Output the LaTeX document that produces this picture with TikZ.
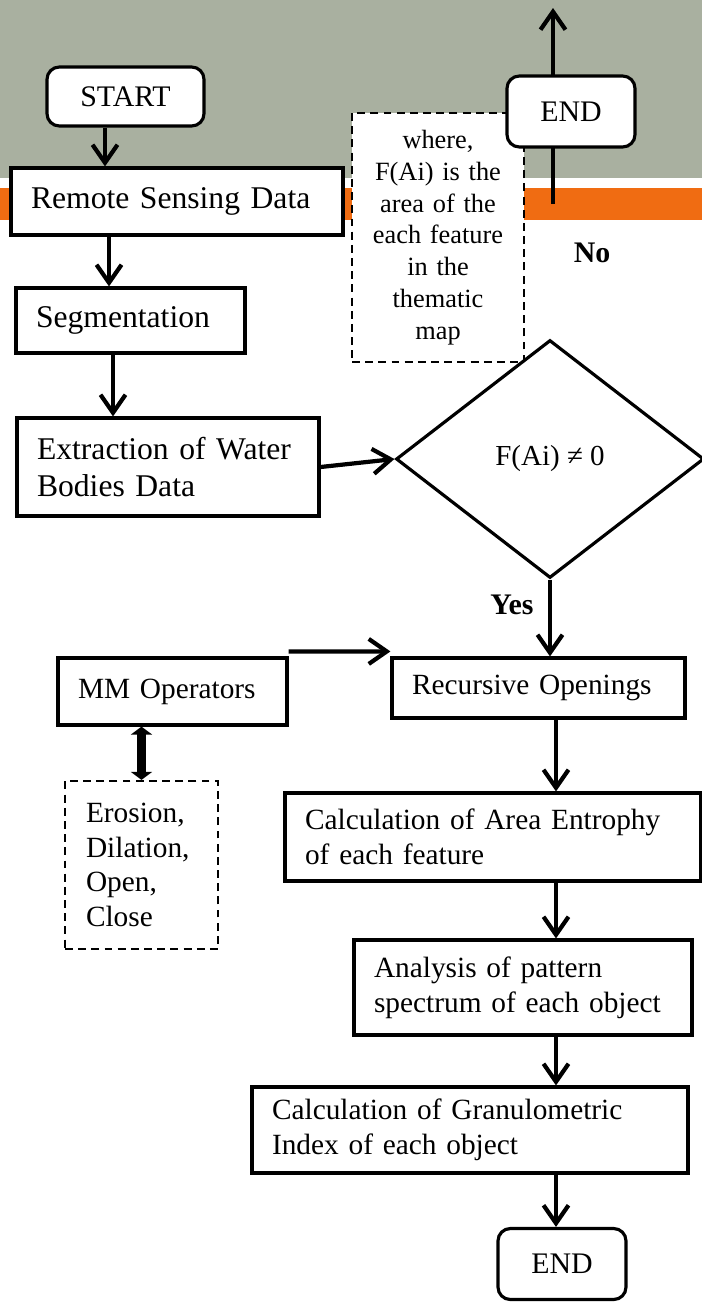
\documentclass[tikz,border=0pt]{standalone}
\usepackage{fontspec}
\setmainfont{Liberation Serif}
\usetikzlibrary{arrows.meta, positioning, shapes.geometric}

\definecolor{bandgray}{RGB}{169,176,160}
\definecolor{bandorange}{RGB}{240,108,18}

\begin{document}
\begin{tikzpicture}[
  x=0.02cm, y=-0.02cm,
  proc/.style={rectangle, draw=black, line width=1.8pt, fill=white, align=left,
               inner xsep=0.4cm, inner ysep=2pt, font=\fontsize{16.7}{19.8}\selectfont},
  bigproc/.style={proc, font=\fontsize{18}{21.6}\selectfont},
  term/.style={rectangle, draw=black, line width=1.8pt, fill=white, rounded corners=7pt,
               minimum width=2.56cm, minimum height=1.42cm, font=\fontsize{17}{20}\selectfont},
  note/.style={rectangle, draw=black, line width=1.3pt, dash pattern=on 4.5pt off 3pt,
               fill=white, inner sep=0pt},
  decision/.style={diamond, draw=black, line width=1.8pt, fill=white, inner sep=0pt,
               minimum width=6.16cm, minimum height=4.76cm, font=\fontsize{16.5}{20}\selectfont},
  arr/.style={-{Straight Barb[length=0.36cm, width=0.5cm]}, line width=2.4pt},
  dblarr/.style={{Triangle[length=0.16cm, width=0.42cm]}-{Triangle[length=0.16cm, width=0.42cm]},
               line width=5pt},
  lbl/.style={font=\bfseries\fontsize{17}{20}\selectfont}
]
  \useasboundingbox (0,0) rectangle (702,1305);
  % header bands
  \fill[bandgray] (0,0) rectangle (702,178);
  \fill[bandorange] (0,188) rectangle (702,220);

  % way out at the top
  \coordinate (up0) at (553,204);
  \coordinate (up1) at (553,8);
  \draw[arr] (up0) -- (up1);

  \node[note, minimum width=3.44cm, minimum height=4.98cm, text width=3.2cm, align=center,
        font=\fontsize{15}{18.1}\selectfont] (where) at (438,237.5)
        {where,\\F(Ai) is the\\area of the\\each feature\\in the\\thematic\\map};
  \node[term] (endtop) at (571,111.5) {END};
  \node[lbl] (no) at (592,253) {No};

  % main flow
  \node[term, minimum width=3.14cm, minimum height=1.18cm] (start) at (125.5,96.5) {START};
  \node[bigproc, text width=5.84cm, minimum height=1.34cm] (rsd) at (177,201.5) {Remote Sensing Data};
  \node[bigproc, text width=3.78cm, minimum height=1.3cm] (seg) at (130.5,320.5) {Segmentation};
  \node[bigproc, text width=5.24cm, minimum height=1.96cm] (extr) at (168,467)
        {Extraction of Water\\Bodies Data};
  \node[decision] (dia) at (550,459) {F(Ai) ≠ 0};
  \node[lbl] (yes) at (512,605) {Yes};

  \node[proc, text width=3.78cm, minimum height=1.34cm] (mm) at (172.5,691.5) {MM Operators};
  \node[proc, text width=5.06cm, minimum height=1.2cm] (rec) at (538.5,688) {Recursive Openings};
  \node[note, minimum width=3.06cm, minimum height=3.36cm, text width=2.22cm, align=left,
        inner xsep=0.42cm, font=\fontsize{16.7}{19.8}\selectfont] (ero) at (141.5,865)
        {Erosion,\\Dilation,\\Open,\\Close};

  \node[proc, text width=7.52cm, minimum height=1.76cm] (calc) at (493,837)
        {Calculation of Area Entrophy\\of each feature};
  \node[proc, text width=5.96cm, minimum height=1.9cm] (ana) at (523,987.5)
        {Analysis of pattern\\spectrum of each object};
  \node[proc, text width=7.92cm, minimum height=1.72cm] (gran) at (470,1130)
        {Calculation of Granulometric\\Index of each object};
  \node[term] (endbot) at (562,1264) {END};

  % connectors
  \coordinate (s0) at ([xshift=-0.41cm]start.south);
  \coordinate (s1) at ([xshift=-1.36cm]rsd.south);
  \coordinate (s2) at ([xshift=-0.35cm]seg.south);
  \coordinate (spine) at (556,0);
  \draw[arr] (s0) -- (s0 |- rsd.north);
  \draw[arr] (s1) -- (s1 |- seg.north);
  \draw[arr] (s2) -- (s2 |- extr.north);
  \draw[arr] (extr.east) -- (dia.west);
  \draw[arr] (dia.south) -- (dia.south |- rec.north);
  \draw[arr] ([yshift=0.1cm]mm.north east) -- ([yshift=0.1cm]rec.north west);
  \draw[dblarr] (ero.north) -- (ero.north |- mm.south);
  \draw[arr] (rec.south -| spine) -- (calc.north -| spine);
  \draw[arr] (calc.south -| spine) -- (ana.north -| spine);
  \draw[arr] (ana.south -| spine) -- (gran.north -| spine);
  \draw[arr] (gran.south -| spine) -- (endbot.north -| spine);
\end{tikzpicture}
\end{document}
